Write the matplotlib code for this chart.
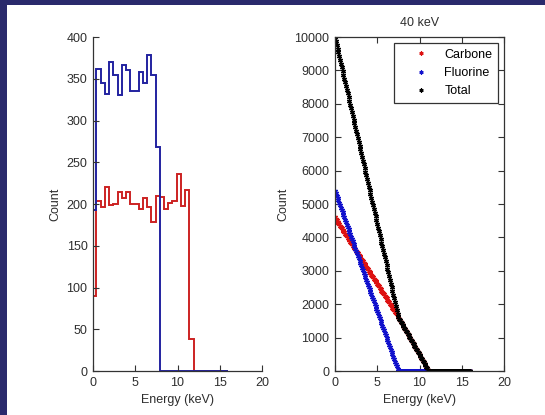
import numpy as np
import matplotlib
matplotlib.use("Agg")
import matplotlib.pyplot as plt
from matplotlib.patches import Rectangle

# ---------------- data ----------------
# left panel: histograms (bin edges in keV, counts per bin)
fluorine_edges = [0, 0.4, 0.9, 1.4, 1.9, 2.4, 2.9, 3.4, 3.9, 4.4, 4.9, 5.4, 5.9,
                  6.4, 6.9, 7.4, 7.9, 16]
fluorine_counts = [193, 362, 345, 332, 370, 355, 330, 367, 360, 335, 335, 358,
                   345, 378, 355, 268, 0]

carbone_edges = [0, 0.4, 0.9, 1.4, 1.9, 2.4, 2.9, 3.4, 3.9, 4.4, 4.9, 5.4, 5.9,
                 6.4, 6.9, 7.4, 7.9, 8.4, 8.9, 9.4, 9.9, 10.4, 10.9, 11.4, 11.9, 16]
carbone_counts = [90, 204, 197, 220, 199, 200, 214, 207, 214, 200, 200, 194, 207,
                  196, 178, 209, 208, 194, 201, 203, 236, 198, 217, 38, 0]

# right panel: counts above energy, sampled every 0.1 keV from 0 to 16 keV
energy = np.round(np.arange(0, 16.05, 0.1), 1)
carbone_cum = [
    4600, 4555, 4515, 4475, 4435, 4395, 4355, 4315, 4275, 4235,
    4195, 4155, 4115, 4075, 4035, 3995, 3955, 3915, 3875, 3835,
    3795, 3755, 3715, 3675, 3640, 3600, 3560, 3520, 3480, 3440,
    3400, 3360, 3320, 3280, 3240, 3200, 3165, 3125, 3085, 3045,
    3005, 2965, 2925, 2885, 2845, 2805, 2765, 2730, 2690, 2650,
    2610, 2570, 2530, 2490, 2450, 2410, 2370, 2330, 2295, 2255,
    2215, 2175, 2135, 2095, 2055, 2015, 1975, 1935, 1895, 1860,
    1820, 1780, 1740, 1700, 1655, 1610, 1565, 1520, 1475, 1430,
    1385, 1340, 1295, 1250, 1205, 1160, 1115, 1070, 1025, 980,
    935, 890, 845, 800, 755, 710, 665, 620, 575, 530,
    485, 440, 395, 350, 305, 260, 215, 170, 125, 80,
    40, 10, 0, 0, 0, 0, 0, 0, 0, 0,
] + [0] * 41
fluorine_cum = [
    5400, 5320, 5250, 5178, 5106, 5034, 4962, 4890, 4818, 4746,
    4674, 4602, 4530, 4458, 4386, 4314, 4242, 4170, 4098, 4026,
    3954, 3882, 3810, 3738, 3666, 3594, 3522, 3450, 3378, 3306,
    3234, 3162, 3090, 3018, 2946, 2874, 2802, 2730, 2658, 2586,
    2514, 2442, 2370, 2298, 2226, 2154, 2082, 2010, 1938, 1866,
    1794, 1722, 1650, 1578, 1506, 1434, 1362, 1290, 1218, 1146,
    1074, 1002, 930, 858, 786, 714, 642, 570, 498, 426,
    354, 282, 210, 138, 66, 0, 0, 0, 0, 0,
] + [0] * 81
total_cum = np.array(carbone_cum) + np.array(fluorine_cum)

series_labels = ["Carbone", "Fluorine", "Total"]
title_right = "40 keV"
xlabel = "Energy (keV)"
ylabel = "Count"

# ---------------- style ----------------
plt.rcParams['font.family'] = ['Liberation Sans', 'DejaVu Sans']
txt_color = '#2e2e2e'
navy = '#2a2a6c'
fs = 9

fig = plt.figure(figsize=(5.45, 4.15), dpi=100, facecolor=navy)
fig.patches.append(Rectangle((7 / 545, 0), 1, 1 - 5 / 415, transform=fig.transFigure,
                             facecolor='white', edgecolor='none', zorder=-10))

W, H = 545, 415
def pos(x0, x1, ytop, ybot):
    return [x0 / W, (H - ybot) / H, (x1 - x0) / W, (ybot - ytop) / H]

axL = fig.add_axes(pos(93, 262, 37, 371))
axR = fig.add_axes(pos(335, 504, 37, 371))

# left panel
axL.stairs(carbone_counts, carbone_edges, baseline=None, color='#cc2222', lw=1.4)
axL.stairs(fluorine_counts, fluorine_edges, baseline=None, color='#2222a0', lw=1.4)
axL.set_xlim(0, 20)
axL.set_ylim(0, 400)
axL.set_xticks([0, 5, 10, 15, 20])
axL.set_yticks(range(0, 401, 50))
axL.spines['top'].set_visible(False)
axL.spines['right'].set_visible(False)

# right panel
ms = 3.6
mk = (6, 2, 0)
axR.plot(energy, carbone_cum, ls='none', marker=mk, ms=ms, mew=0.9, color='#dd1111',
         label=series_labels[0])
axR.plot(energy, fluorine_cum, ls='none', marker=mk, ms=ms, mew=0.9, color='#1111cc',
         label=series_labels[1])
axR.plot(energy, total_cum, ls='none', marker=mk, ms=ms, mew=0.9, color='black',
         label=series_labels[2])
axR.set_xlim(0, 20)
axR.set_ylim(0, 10000)
axR.set_xticks([0, 5, 10, 15, 20])
axR.set_yticks(range(0, 10001, 1000))
axR.tick_params(top=True, right=True)
axR.set_title(title_right, fontsize=fs, color=txt_color, pad=8)
leg = axR.legend(loc='upper right', fontsize=fs, frameon=True, fancybox=False,
                 edgecolor='#333333', framealpha=1, handlelength=3.4, markerscale=0.8,
                 borderpad=0.45, labelspacing=0.5, handletextpad=0.2,
                 borderaxespad=0, bbox_to_anchor=(0.9645, 0.982))
leg.get_frame().set_linewidth(0.9)

for ax in (axL, axR):
    ax.set_facecolor('white')
    ax.tick_params(direction='in', length=4, width=0.8, labelsize=fs,
                   labelcolor=txt_color, color='#333333', pad=4)
    for s in ax.spines.values():
        s.set_linewidth(0.9)
        s.set_color('#333333')
    ax.set_xlabel(xlabel, fontsize=fs, color=txt_color, labelpad=4)
    ax.set_ylabel(ylabel, fontsize=fs, color=txt_color, labelpad=4)

fig.savefig('out.png', dpi=100, facecolor=navy)
